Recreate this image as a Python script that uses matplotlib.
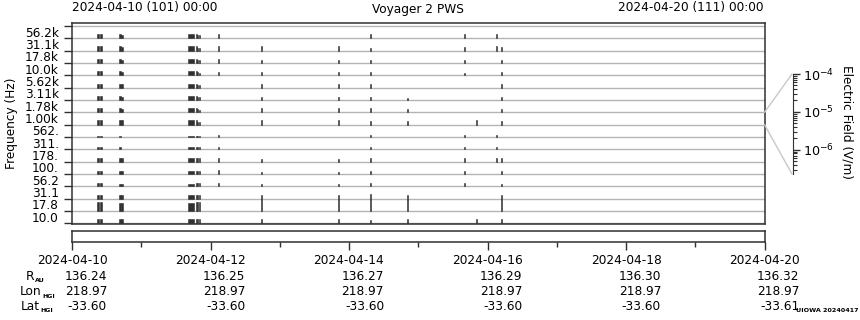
import numpy as np
import matplotlib
matplotlib.use('Agg')
import matplotlib.pyplot as plt
from matplotlib.patches import ConnectionPatch

# channel centre frequencies, top strip first
channels = ['56.2k', '31.1k', '17.8k', '10.0k', '5.62k', '3.11k', '1.78k', '1.00k',
            '562.', '311.', '178.', '100.', '56.2', '31.1', '17.8', '10.0']

# burst times (hours after 2024-04-10 00:00) and their durations (hours)
event_hours = [9.1, 10.1, 16.6, 17.3, 41.2, 43.2, 43.6, 44.3, 50.7,
               65.8, 92.3, 103.5, 116.2, 136.0, 140.3, 147.1, 148.8]
event_dur = [0.8, 0.6, 0.6, 0.5, 2.0, 0.45, 0.35, 0.35, 0.35,
             0.35, 0.35, 0.35, 0.35, 0.35, 0.35, 0.35, 0.35]

# electric field per channel per burst, in microvolt/m (0 = nothing seen)
efield_uv = [
    [1.9, 1.9, 1.9, 1.4, 1.9, 1.9, 1.0, 1.0, 2.3, 0, 0, 2.3, 0, 1.6, 0, 2.3, 0],
    [1.9, 1.9, 1.9, 1.4, 1.9, 1.9, 1.0, 1.0, 2.3, 1.9, 1.9, 1.0, 0, 1.4, 0, 2.3, 1.4],
    [1.6, 1.6, 1.6, 1.2, 1.6, 1.6, 1.0, 1.0, 1.6, 1.0, 1.0, 1.0, 0, 1.2, 0, 0, 1.2],
    [1.6, 1.6, 1.6, 1.2, 1.6, 1.6, 1.0, 0.87, 1.2, 1.0, 1.0, 1.2, 0, 0.71, 0, 0, 1.2],
    [1.6, 1.6, 1.6, 1.2, 1.6, 1.6, 1.0, 0.87, 0, 1.4, 1.4, 1.2, 0, 0, 0, 0, 1.4],
    [1.6, 1.6, 1.6, 1.2, 1.6, 1.6, 1.0, 0.87, 0, 1.2, 1.2, 1.0, 0.71, 0, 0, 0, 1.2],
    [1.6, 1.6, 1.6, 1.2, 1.6, 1.6, 1.0, 0.87, 0, 1.9, 1.9, 1.6, 1.4, 0, 0, 0, 1.2],
    [1.9, 1.9, 1.9, 1.9, 1.9, 1.9, 1.0, 1.0, 0, 2.3, 2.3, 1.2, 1.4, 0, 2.7, 0, 1.2],
    [0.43, 0.43, 0.37, 0, 0.43, 0.43, 0.43, 0.37, 0.53, 0, 0, 0.53, 0, 0.53, 0, 0.53, 0],
    [0.87, 0.87, 0.71, 0, 0.87, 0.87, 0.87, 0.71, 0.87, 0, 0, 0.87, 0, 0.87, 0, 0.87, 0],
    [1.2, 1.2, 1.2, 1.2, 1.2, 1.2, 1.2, 1.2, 1.2, 1.0, 1.0, 1.2, 0, 1.2, 0, 1.2, 1.2],
    [1.2, 1.0, 0.87, 0.87, 1.0, 1.0, 1.0, 1.0, 1.4, 0.71, 0.71, 0.87, 0, 0.87, 0, 0, 0.87],
    [1.0, 1.0, 0.87, 0.87, 0.87, 1.0, 1.0, 1.0, 1.4, 0.71, 0.71, 1.4, 0, 1.0, 0, 0, 0.71],
    [1.4, 1.4, 1.4, 1.4, 1.4, 1.4, 1.4, 1.4, 0, 0, 0, 0, 0, 0, 0, 0, 0],
    [17, 17, 12, 12, 12, 17, 17, 17, 0, 610, 610, 1000, 610, 0, 0, 0, 610],
    [1.9, 1.9, 1.9, 1.9, 1.9, 1.9, 1.9, 1.9, 0, 1.9, 1.9, 1.2, 1.6, 0, 2.3, 0, 1.9],
]

day_hours = [0, 48, 96, 144, 192, 240]
day_labels = ['2024-04-10', '2024-04-12', '2024-04-14', '2024-04-16', '2024-04-18', '2024-04-20']
r_au = ['136.24', '136.25', '136.27', '136.29', '136.30', '136.32']
lon_hgi = ['218.97', '218.97', '218.97', '218.97', '218.97', '218.97']
lat_hgi = ['-33.60', '-33.60', '-33.60', '-33.60', '-33.60', '-33.61']

emin, emax = 2.3e-7, 1e-4   # field range mapped onto one strip height

W, H = 860, 320
fig = plt.figure(figsize=(8.6, 3.2), dpi=100)
dark = '#303030'
fs = 8.7

def fx(px):
    return px / W

def fy(py):
    return 1 - py / H

# main channel panel
ax = fig.add_axes([fx(72), fy(224), fx(764.5 - 72), (224 - 23.3) / H])
ax.set_xlim(0, 240)
ax.set_ylim(-0.05, 16.22)
for k in range(17):
    ax.axhline(k, color='#b4b4b4', lw=1.0, zorder=1)

E = np.array(efield_uv) * 1e-6
scale = np.log10(emax) - np.log10(emin)
for r, row in enumerate(E):
    base = 15 - r
    m = row > 0
    h = (np.log10(row[m]) - np.log10(emin)) / scale
    ax.bar(np.array(event_hours)[m], h, width=np.array(event_dur)[m], bottom=base,
           color=dark, edgecolor=dark, linewidth=0.4, zorder=3)

ax.set_xticks([])
ax.set_yticks(range(17))
ax.set_yticklabels([])
ax.set_yticks(np.arange(16) + 0.55, minor=True)
ax.set_yticklabels(channels[::-1], minor=True, fontsize=fs)
ax.tick_params(axis='y', which='major', length=6, width=1, color=dark)
ax.tick_params(axis='y', which='minor', length=0, pad=9.5)
for s in ax.spines.values():
    s.set_color(dark)
    s.set_linewidth(1.1)
ax.set_ylabel('Frequency (Hz)', fontsize=fs)
ax.yaxis.set_label_coords((18 - 72) / 692.5, 0.5)

# time axis strip
axt = fig.add_axes([fx(72), fy(241.7), fx(692.5), (241.7 - 231) / H])
axt.set_xlim(0, 240)
axt.set_yticks([])
axt.set_xticks(day_hours)
axt.set_xticks([24, 72, 120, 168, 216], minor=True)
axt.set_xticklabels([])
axt.tick_params(axis='x', which='major', length=6, width=1, color=dark)
axt.tick_params(axis='x', which='minor', length=3.6, width=1, color=dark)
for s in axt.spines.values():
    s.set_color(dark)
    s.set_linewidth(1.1)

rows_y = [261, 276.4, 291.7, 306.5]
for hr, d, r, lo, la in zip(day_hours, day_labels, r_au, lon_hgi, lat_hgi):
    xc = 72 + 692.5 * hr / 240
    fig.text(fx(xc), fy(rows_y[0]), d, ha='center', va='center', fontsize=fs)
    for val, yy in zip([r, lo, la], rows_y[1:]):
        fig.text(fx(xc + 35), fy(yy), val, ha='right', va='center', fontsize=fs)

# row names with small bold subscripts
for name, sub, split, yy in [('R', 'AU', 34, rows_y[1]), ('Lon', 'HGI', 41.5, rows_y[2]),
                             ('Lat', 'HGI', 39.5, rows_y[3])]:
    fig.text(fx(split), fy(yy), name, ha='right', va='center', fontsize=fs)
    fig.text(fx(split + 1), fy(yy + 4.5), sub, ha='left', va='center', fontsize=4.5,
             fontweight='bold')

# header
fig.text(fx(72), fy(8), '2024-04-10 (101) 00:00', ha='left', va='center', fontsize=fs)
fig.text(fx(418), fy(9), 'Voyager 2 PWS', ha='center', va='center', fontsize=fs)
fig.text(fx(764), fy(8), '2024-04-20 (111) 00:00', ha='right', va='center', fontsize=fs)
fig.text(fx(858), fy(311), 'UIOWA 20240417', ha='right', va='center', fontsize=4.6,
         fontweight='bold')

# electric field key
axe = fig.add_axes([fx(792), fy(174), 0.0012, (174 - 74) / H])
axe.set_yscale('log')
axe.set_ylim(emin, emax)
axe.set_xticks([])
for k in ['left', 'top', 'bottom']:
    axe.spines[k].set_visible(False)
axe.spines['right'].set_color(dark)
axe.yaxis.tick_right()
axe.set_yticks([1e-6, 1e-5, 1e-4])
axe.set_yticklabels([r'$10^{-6}$', r'$10^{-5}$', r'$10^{-4}$'], fontsize=fs + 0.5)
axe.tick_params(axis='y', which='major', length=5, width=1, color=dark, pad=2)
axe.tick_params(axis='y', which='minor', length=3, width=0.8, color=dark)
axe.patch.set_visible(False)
fig.text(fx(847), fy(122), 'Electric Field (V/m)', rotation=-90, ha='center', va='center',
         fontsize=fs)

for ya, yb in [(9, emax), (8, emin)]:
    con = ConnectionPatch(xyA=(240, ya), coordsA='data', axesA=ax,
                          xyB=(0, yb), coordsB='data', axesB=axe,
                          color='#c8c8c8', lw=1.0)
    fig.add_artist(con)

fig.savefig('out.png', dpi=100)
